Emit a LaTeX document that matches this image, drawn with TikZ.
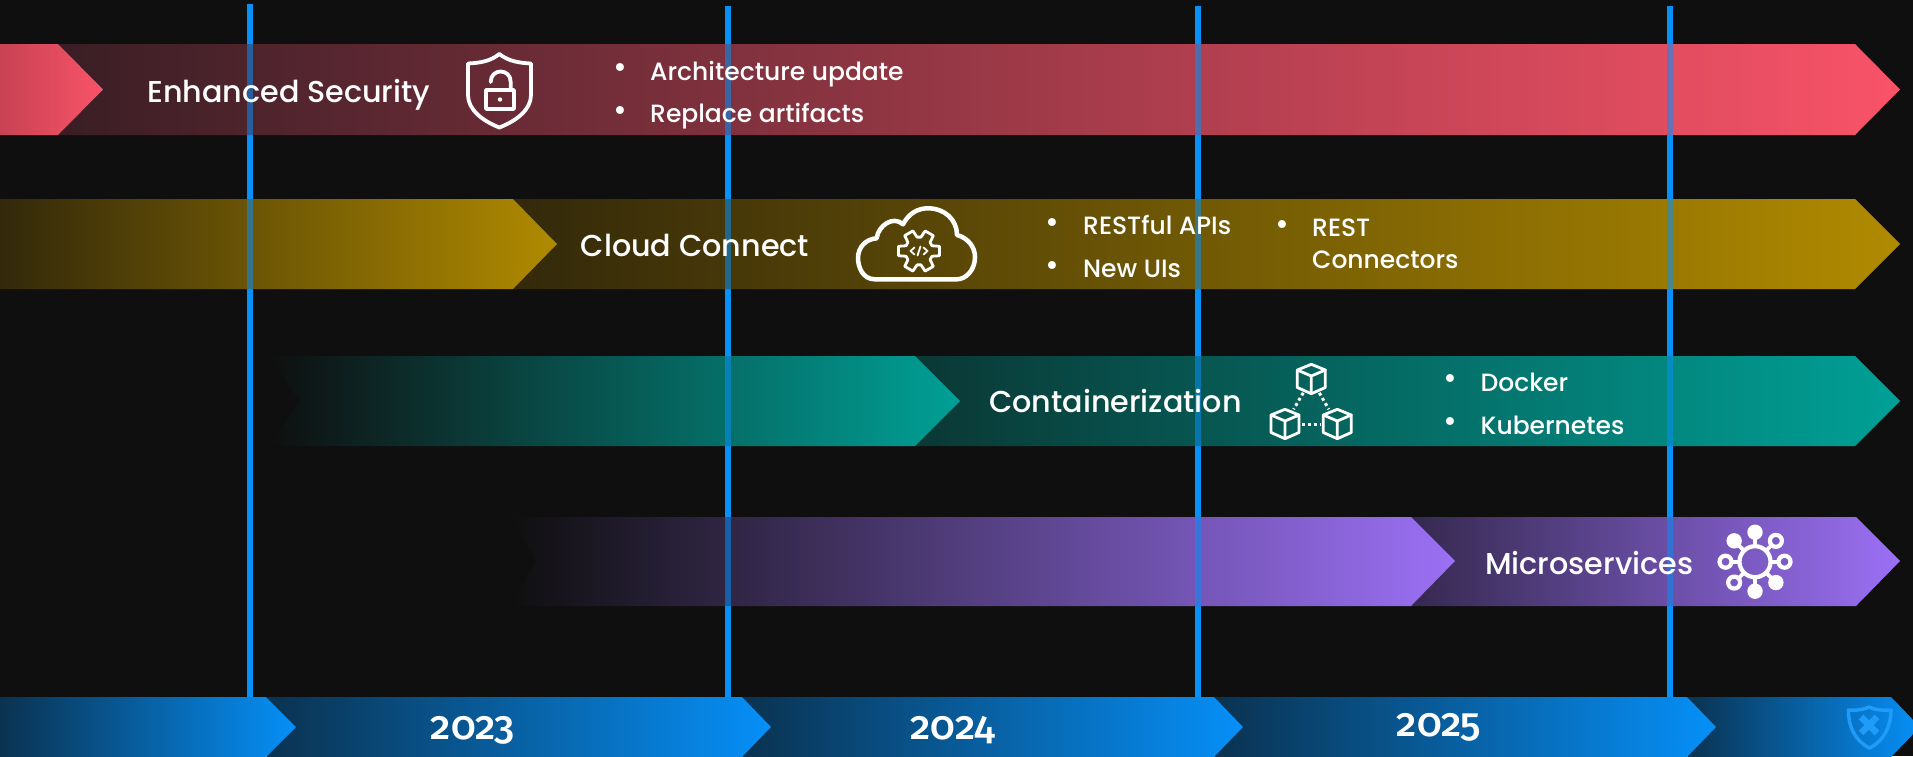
\documentclass[tikz,border=0pt]{standalone}
\usepackage{fontspec}
\setmainfont{Poppins Medium}
\newfontfamily\yearfont[Numbers=OldStyle]{Fira Sans Medium}
\usetikzlibrary {calc}

\definecolor{pagebg}{HTML}{0F0F0F}
\definecolor{pinkband}{HTML}{F95368}
\definecolor{pinkdark}{HTML}{3A1E25}
\definecolor{goldband}{HTML}{B08A00}
\definecolor{golddark}{HTML}{33290A}
\definecolor{tealband}{HTML}{00A096}
\definecolor{tealdark}{HTML}{0A3835}
\definecolor{purpleband}{HTML}{9B70F5}
\definecolor{purpledark}{HTML}{35294F}
\definecolor{blueband}{HTML}{0690F8}
\definecolor{bluedark}{HTML}{0A3250}

\tikzset{
  bandtitle/.style={anchor=base west, inner sep=0pt, text=white, font=\fontsize{30.2}{34}\selectfont},
  listitem/.style={anchor=base west, inner sep=0pt, text=white, font=\fontsize{25}{29}\selectfont},
  listdot/.style={anchor=center, inner sep=0pt, text=white, font=\fontsize{30}{34}\selectfont},
  yearlabel/.style={anchor=base, inner sep=0pt, text=white, font=\yearfont\fontsize{40}{46}\selectfont},
  yearline/.style={draw=blueband, line width=5.5pt},
  iconline/.style={draw=white, line width=3.8pt, line join=round, line cap=round},
  thinline/.style={draw=white, line width=2.8pt, line join=round, line cap=round},
  dotline/.style={draw=white, line width=3pt, dash pattern=on 3pt off 3pt},
  boxcube/.pic={
    \draw[iconline,line width=2.8pt] (0,-14.7) -- (14,-9) -- (14,8.5) -- (0,14.7) -- (-14,8.5) -- (-14,-9) -- cycle;
    \draw[iconline,line width=2.8pt] (-14,-9) -- (0,-3) -- (14,-9) (0,-3) -- (0,14.7);
  }
}

\begin{document}
\begin{tikzpicture}[x=1pt, y=-1pt]
  \useasboundingbox (0,0) rectangle (1913,756);
  \fill[pagebg] (0,0) rectangle (1913,756);

  \foreach \n/\x/\t in {1/250/4, 2/728/6, 3/1198/6, 4/1670/6} {
    \coordinate (top\n) at (\x,\t);
    \coordinate (foot\n) at (\x,697);
    \draw[yearline] (top\n) -- (foot\n);
  }

  % bands
  \shade[left color=pinkdark, right color=pinkband] (58,44) -- (1855,44) -- (1900,89.5) -- (1855,135) -- (58,135) -- (103,89.5) -- cycle;
  \shade[left color=pinkband!80!black, right color=pinkband] (0,44) -- (58,44) -- (103,89.5) -- (58,135) -- (0,135) -- cycle;
  \shade[left color=golddark, right color=goldband] (513,199) -- (1855,199) -- (1900,244) -- (1855,289) -- (513,289) -- (557,244) -- cycle;
  \shade[left color=golddark, right color=goldband] (0,199) -- (513,199) -- (557,244) -- (513,289) -- (0,289) -- cycle;
  \shade[left color=tealdark, right color=tealband] (915,356) -- (1855,356) -- (1900,401) -- (1855,446) -- (915,446) -- (960,401) -- cycle;
  \shade[left color=pagebg, right color=tealband] (268,356) -- (915,356) -- (960,401) -- (915,446) -- (268,446) -- (300,401) -- cycle;
  \shade[left color=purpledark, right color=purpleband] (1411,517) -- (1856,517) -- (1900,561) -- (1856,606) -- (1411,606) -- (1455,561) -- cycle;
  \shade[left color=pagebg, right color=purpleband] (510,517) -- (1411,517) -- (1455,561) -- (1411,606) -- (510,606) -- (536,561) -- cycle;

  % years
  \shade[left color=bluedark, right color=blueband] (1687,697) -- (1891,697) -- (1920,727) -- (1891,757) -- (1687,757) -- (1716,727) -- cycle;
  \shade[left color=bluedark, right color=blueband] (1214,697) -- (1687,697) -- (1716,727) -- (1687,757) -- (1214,757) -- (1243,727) -- cycle;
  \shade[left color=bluedark, right color=blueband] (742,697) -- (1214,697) -- (1243,727) -- (1214,757) -- (742,757) -- (771,727) -- cycle;
  \shade[left color=bluedark, right color=blueband] (266,697) -- (742,697) -- (771,727) -- (742,757) -- (266,757) -- (296,727) -- cycle;
  \shade[left color=bluedark, right color=blueband] (0,697) -- (266,697) -- (296,727) -- (266,757) -- (0,757) -- cycle;

  \foreach \n in {1,...,4}
    \draw[yearline, opacity=.55] (top\n) -- (foot\n);

  \node[bandtitle] (security) at (147,102.5) {Enhanced Security};
  \node[listdot] (dota) at (620,71) {•};
  \node[listitem] (architecture) at (650,80) {Architecture update};
  \node[listdot] (dotb) at (620,114) {•};
  \node[listitem] (replace) at (650,122.5) {Replace artifacts};

  \node[bandtitle] (cloud) at (580.5,256.5) {Cloud Connect};
  \node[listdot] (dotc) at (1052,226) {•};
  \node[listitem] (restful) at (1083,234.8) {RESTful APIs};
  \node[listdot] (dotd) at (1052,269) {•};
  \node[listitem] (newuis) at (1083,277.8) {New UIs};
  \node[listdot] (dote) at (1282.5,228) {•};
  \node[listitem] (rest) at (1312,236.7) {REST};
  \node[listitem] (connectors) at (1312,268.8) {Connectors};

  \node[bandtitle] (containers) at (989,412.8) {Containerization};
  \node[listdot] (dotf) at (1450,382) {•};
  \node[listitem] (docker) at (1480.5,391.2) {Docker};
  \node[listdot] (dotg) at (1450,425) {•};
  \node[listitem] (kubernetes) at (1480.5,434) {Kubernetes};

  \node[bandtitle] (micro) at (1485,574) {Microservices};

  \node[yearlabel] (yeara) at (473,739) {2023};
  \node[yearlabel] (yearb) at (953,739) {2024};
  \node[yearlabel] (yearc) at (1439,736) {2025};

  % shield
  \draw[iconline] (499.3,54) .. controls (491,61) and (480,63) .. (468,63.5) -- (468,95)
    .. controls (468,110) and (483,121) .. (499.3,127.5)
    .. controls (516,121) and (531,110) .. (531,95) -- (531,63.5)
    .. controls (519,63) and (508,61) .. (499.3,54) -- cycle;
  \draw[iconline] (486,90) rectangle (514,109);
  \draw[iconline] (490.7,82) .. controls (490.7,68) and (510.7,68) .. (510.7,82) -- (510.7,90);
  \fill[white] (500,99.5) circle (2.2pt);

  % cloud
  \draw[iconline, line width=4.5pt] (875,279.3) .. controls (862,279.3) and (858,266) .. (858,258)
    .. controls (858,247) and (866,239) .. (876.7,238.3)
    .. controls (878,226) and (893,215) .. (903,224.3)
    .. controls (909,213) and (918,208.3) .. (928,208.3)
    .. controls (945,208.3) and (957,220) .. (957,235)
    .. controls (968,238) and (975,247) .. (975,257)
    .. controls (975,270) and (966,279.3) .. (956.7,279.3) -- cycle;
  \begin{scope}[shift={(919,251)}]
    \draw[thinline] (-22:14) \foreach \a in {0,60,...,300} {-- (\a-13:21) -- (\a+13:21) -- (\a+22:14) -- (\a+38:14)} -- cycle;
    \draw[thinline, line width=1.8pt] (-4.5,-3.5) -- (-8.5,0) -- (-4.5,3.5) (4.5,-3.5) -- (8.5,0) -- (4.5,3.5) (1.5,-4.5) -- (-1.5,4.5);
  \end{scope}

  % cubes
  \coordinate (cubetop) at (1311.3,379);
  \coordinate (cubeleft) at (1285,424);
  \coordinate (cuberight) at (1337.3,424);
  \pic at (cubetop) {boxcube};
  \pic at (cubeleft) {boxcube};
  \pic at (cuberight) {boxcube};
  \draw[dotline, shorten <=16pt, shorten >=17pt] (cubetop) -- (cubeleft);
  \draw[dotline, shorten <=16pt, shorten >=17pt] (cubetop) -- (cuberight);
  \draw[dotline, shorten <=17pt, shorten >=17pt] (cubeleft) -- (cuberight);

  % services
  \begin{scope}[shift={(1755,561.7)}]
    \draw[iconline, line width=4.2pt] (0,0) circle (15.5pt);
    \foreach \a in {0,45,...,315}
      \draw[iconline] (\a:16) -- (\a:24);
    \foreach \a in {270,225,90,45}
      \fill[white] (\a:29.5) circle (7.7pt);
    \foreach \a in {315,0,180,135}
      \draw[iconline, line width=4.2pt, fill=purpleband!80!black] (\a:29.5) circle (6pt);
  \end{scope}

  % logo
  \draw[draw=blueband!90!white, line width=3.5pt, line join=round] (1869,707) .. controls (1860,711) and (1853,710) .. (1848.5,710) .. controls (1848,726) and (1855,741) .. (1869.5,748) .. controls (1884,741) and (1891,726) .. (1891,710) .. controls (1885,710) and (1878,711) .. (1869,707) -- cycle;
  \draw[draw=blueband!90!white, line width=6.5pt] (1861,717) -- (1877,733) (1877,717) -- (1861,733);
\end{tikzpicture}
\end{document}
